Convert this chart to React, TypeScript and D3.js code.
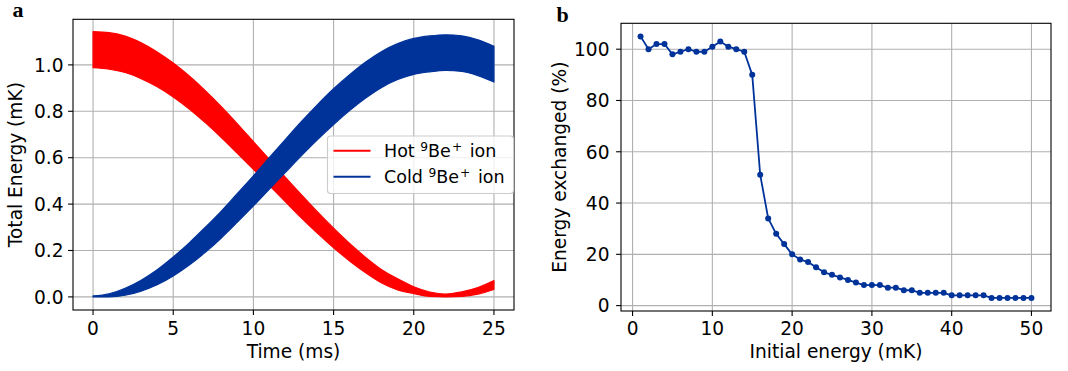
import React from 'react';
import * as d3 from 'd3';

// ---------- Panel a data (band envelopes) ----------
const timeMs = [0, 1, 2, 3, 4, 5, 6, 7, 8, 9, 10, 11, 12, 13, 14, 15, 16, 17, 18, 19, 20, 21, 22, 23, 24, 25];
const hotUpper = [1.143, 1.139, 1.124, 1.095, 1.056, 1.008, 0.952, 0.889, 0.820, 0.746, 0.669, 0.592, 0.515, 0.440, 0.366, 0.296, 0.230, 0.170, 0.117, 0.078, 0.044, 0.021, 0.012, 0.022, 0.040, 0.070];
const hotLower = [0.988, 0.982, 0.967, 0.941, 0.906, 0.862, 0.810, 0.751, 0.687, 0.619, 0.550, 0.480, 0.410, 0.340, 0.274, 0.212, 0.155, 0.104, 0.060, 0.030, 0.014, 0.002, 0.000, 0.002, 0.012, 0.032];
const coldUpper = [0.004, 0.013, 0.037, 0.072, 0.117, 0.172, 0.233, 0.300, 0.370, 0.446, 0.522, 0.601, 0.679, 0.756, 0.829, 0.897, 0.958, 1.012, 1.058, 1.092, 1.114, 1.125, 1.130, 1.125, 1.108, 1.080];
const coldLower = [0.000, 0.000, 0.007, 0.025, 0.052, 0.090, 0.137, 0.192, 0.254, 0.322, 0.392, 0.465, 0.537, 0.609, 0.678, 0.743, 0.803, 0.857, 0.903, 0.937, 0.959, 0.970, 0.976, 0.972, 0.954, 0.926];
const leftXTicks = [0, 5, 10, 15, 20, 25];
const leftYTicks = [0, 0.2, 0.4, 0.6, 0.8, 1.0];

// ---------- Panel b data ----------
const initialEnergy = [1, 2, 3, 4, 5, 6, 7, 8, 9, 10, 11, 12, 13, 14, 15, 16, 17, 18, 19, 20, 21, 22, 23, 24, 25, 26, 27, 28, 29, 30, 31, 32, 33, 34, 35, 36, 37, 38, 39, 40, 41, 42, 43, 44, 45, 46, 47, 48, 49, 50];
const energyExchanged = [105, 100, 102, 102, 98, 99, 100, 99, 99, 101, 103, 101, 100, 99, 90, 51, 34, 28, 24, 20, 18, 17, 15, 13, 12, 11, 10, 9, 8, 8, 8, 7, 7, 6, 6, 5, 5, 5, 5, 4, 4, 4, 4, 4, 3, 3, 3, 3, 3, 3];
const rightXTicks = [0, 10, 20, 30, 40, 50];
const rightYTicks = [0, 20, 40, 60, 80, 100];

const RED = '#ff0000';
const BLUE = '#00339a';
const GRID = '#b0b0b0';
const FONT = 'DejaVu Sans, sans-serif';
const FS = 18.6;
const LFS = 17.5;

export default function App() {
  // Panel a scales
  const xa = d3.scaleLinear().domain([-1.25, 26.25]).range([73, 514]);
  const ya = d3.scaleLinear().domain([-0.0565, 1.1965]).range([310, 19.3]);
  // Panel b scales
  const xb = d3.scaleLinear().domain([-1.45, 52.45]).range([621, 1051]);
  const yb = d3.scaleLinear().domain([-2.1, 110.1]).range([311, 23.3]);

  const bandArea = (up: number[], lo: number[]) =>
    d3.area<number>()
      .x((_, i) => xa(timeMs[i]))
      .y0((_, i) => ya(lo[i]))
      .y1((_, i) => ya(up[i]))
      .curve(d3.curveMonotoneX)(timeMs) as string;

  const bLine = d3.line<number>()
    .x((_, i) => xb(initialEnergy[i]))
    .y((d) => yb(d))(energyExchanged) as string;

  const tickLen = 4.9;

  const axesFrame = (x0: number, x1: number, y0: number, y1: number) => (
    <rect x={x0} y={y0} width={x1 - x0} height={y1 - y0} fill="none" stroke="#000" strokeWidth={1.1} />
  );

  const [ax0, ax1] = xa.range();
  const [ay1, ay0] = ya.range();
  const [bx0, bx1] = xb.range();
  const [by1, by0] = yb.range();

  const fmtA = d3.format('.1f');

  return (
    <svg width={1068} height={371} style={{ position: 'absolute', left: 0, top: 0, background: '#fff' }} fontFamily={FONT}>
      <rect x={0} y={0} width={1068} height={371} fill="#fff" />
      <defs>
        <clipPath id="clipA"><rect x={ax0} y={ay0} width={ax1 - ax0} height={ay1 - ay0} /></clipPath>
        <clipPath id="clipB"><rect x={bx0} y={by0} width={bx1 - bx0} height={by1 - by0} /></clipPath>
      </defs>
      {/* ===== Panel a ===== */}
      <g>
        {leftXTicks.map((t) => (
          <line key={'gx' + t} x1={xa(t)} x2={xa(t)} y1={ay0} y2={ay1} stroke={GRID} strokeWidth={1.1} />
        ))}
        {leftYTicks.map((t) => (
          <line key={'gy' + t} x1={ax0} x2={ax1} y1={ya(t)} y2={ya(t)} stroke={GRID} strokeWidth={1.1} />
        ))}
        <g clipPath="url(#clipA)">
          <path d={bandArea(hotUpper, hotLower)} fill={RED} stroke={RED} strokeWidth={1.2} strokeLinejoin="round" />
          <path d={bandArea(coldUpper, coldLower)} fill={BLUE} stroke={BLUE} strokeWidth={1.2} strokeLinejoin="round" />
        </g>
        {axesFrame(ax0, ax1, ay0, ay1)}
        {leftXTicks.map((t) => (
          <g key={'tx' + t}>
            <line x1={xa(t)} x2={xa(t)} y1={ay1} y2={ay1 + tickLen} stroke="#000" strokeWidth={1.1} />
            <text x={xa(t)} y={335} textAnchor="middle" fontSize={FS} fill="#000">{t}</text>
          </g>
        ))}
        {leftYTicks.map((t) => (
          <g key={'ty' + t}>
            <line x1={ax0 - tickLen} x2={ax0} y1={ya(t)} y2={ya(t)} stroke="#000" strokeWidth={1.1} />
            <text x={63.5} y={ya(t) + 6.8} textAnchor="end" fontSize={FS} fill="#000">{fmtA(t)}</text>
          </g>
        ))}
        <text x={(ax0 + ax1) / 2} y={358} textAnchor="middle" fontSize={FS} fill="#000">Time (ms)</text>
        <text transform={`translate(22,${(ay0 + ay1) / 2}) rotate(-90)`} textAnchor="middle" fontSize={FS} fill="#000">Total Energy (mK)</text>
        <text x={12.5} y={17} fontFamily="Liberation Serif, Times New Roman, serif" fontWeight="bold" fontSize={22} fill="#000">a</text>

        {/* Legend */}
        <rect x={327.5} y={136} width={186} height={57.5} rx={3} ry={3} fill="#fff" fillOpacity={0.8} stroke="#cccccc" strokeWidth={1.1} />
        <line x1={333.5} x2={370.5} y1={150.7} y2={150.7} stroke={RED} strokeWidth={2.1} />
        <line x1={333.5} x2={370.5} y1={176.7} y2={176.7} stroke={BLUE} strokeWidth={2.1} />
        <text x={384} y={156.7} fontSize={LFS} fill="#000">
          <tspan>Hot </tspan>
          <tspan fontSize={LFS * 0.7} dy={-6}>9</tspan>
          <tspan dy={6}>Be</tspan>
          <tspan fontSize={LFS * 0.7} dy={-6} dx={1}>+</tspan>
          <tspan dy={6} dx={2}> ion</tspan>
        </text>
        <text x={384} y={182.7} fontSize={LFS} fill="#000">
          <tspan>Cold </tspan>
          <tspan fontSize={LFS * 0.7} dy={-6}>9</tspan>
          <tspan dy={6}>Be</tspan>
          <tspan fontSize={LFS * 0.7} dy={-6} dx={1}>+</tspan>
          <tspan dy={6} dx={2}> ion</tspan>
        </text>
      </g>

      {/* ===== Panel b ===== */}
      <g>
        {rightXTicks.map((t) => (
          <line key={'bgx' + t} x1={xb(t)} x2={xb(t)} y1={by0} y2={by1} stroke={GRID} strokeWidth={1.1} />
        ))}
        {rightYTicks.map((t) => (
          <line key={'bgy' + t} x1={bx0} x2={bx1} y1={yb(t)} y2={yb(t)} stroke={GRID} strokeWidth={1.1} />
        ))}
        <g clipPath="url(#clipB)">
          <path d={bLine} fill="none" stroke={BLUE} strokeWidth={1.8} strokeLinejoin="round" />
          {energyExchanged.map((v, i) => (
            <circle key={'pt' + i} cx={xb(initialEnergy[i])} cy={yb(v)} r={3} fill={BLUE} />
          ))}
        </g>
        {axesFrame(bx0, bx1, by0, by1)}
        {rightXTicks.map((t) => (
          <g key={'btx' + t}>
            <line x1={xb(t)} x2={xb(t)} y1={by1} y2={by1 + tickLen} stroke="#000" strokeWidth={1.1} />
            <text x={xb(t)} y={335} textAnchor="middle" fontSize={FS} fill="#000">{t}</text>
          </g>
        ))}
        {rightYTicks.map((t) => (
          <g key={'bty' + t}>
            <line x1={bx0 - tickLen} x2={bx0} y1={yb(t)} y2={yb(t)} stroke="#000" strokeWidth={1.1} />
            <text x={609.5} y={yb(t) + 6.8} textAnchor="end" fontSize={FS} fill="#000">{t}</text>
          </g>
        ))}
        <text x={(bx0 + bx1) / 2} y={358} textAnchor="middle" fontSize={FS} fill="#000">Initial energy (mK)</text>
        <text transform={`translate(566,${(by0 + by1) / 2}) rotate(-90)`} textAnchor="middle" fontSize={FS} fill="#000">Energy exchanged (%)</text>
        <text x={556.5} y={21.7} fontFamily="Liberation Serif, Times New Roman, serif" fontWeight="bold" fontSize={22} fill="#000">b</text>
      </g>
    </svg>
  );
}
